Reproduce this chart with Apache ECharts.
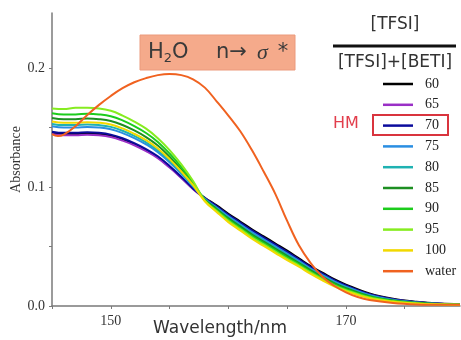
<!DOCTYPE html>
<html>
<head>
<meta charset="utf-8">
<script src="https://cdn.jsdelivr.net/npm/echarts@6/dist/echarts.min.js"></script>
<style>
  html, body { margin: 0; padding: 0; background: #fff; }
  #chart { width: 461px; height: 340px; }
</style>
</head>
<body>
<div id="chart"></div>
<script>
// Wavelength grid shared by the TFSI/BETI ratio spectra (nm)
const wavelength = [145, 146, 147, 148, 149, 150, 151, 152, 153, 154, 155, 156, 157,
  158, 159, 160, 161, 162, 163, 164, 165, 166, 167, 168, 169, 170, 172, 174, 176, 178, 179.7];

const abs60 = [0.1455, 0.1445, 0.1445, 0.145, 0.1445, 0.143, 0.140, 0.136, 0.131, 0.125, 0.117, 0.108, 0.0985,
  0.091, 0.0845, 0.0775, 0.071, 0.0645, 0.0585, 0.0525, 0.0465, 0.040, 0.0335, 0.028, 0.0225, 0.018, 0.0105, 0.006, 0.0035, 0.002, 0.0015];
const abs65 = [0.1445, 0.1435, 0.1435, 0.144, 0.1435, 0.142, 0.139, 0.1351, 0.1301, 0.1242, 0.1163, 0.1075, 0.0982,
  0.0904, 0.0834, 0.0761, 0.0695, 0.0629, 0.0569, 0.0509, 0.0449, 0.0386, 0.0322, 0.0267, 0.0213, 0.0169, 0.0097, 0.0055, 0.0032, 0.0019, 0.0014];
const abs70 = [0.1465, 0.1455, 0.1455, 0.146, 0.1455, 0.144, 0.141, 0.1369, 0.1319, 0.1258, 0.1177, 0.1085, 0.0988,
  0.0906, 0.0838, 0.0767, 0.0701, 0.0635, 0.0575, 0.0515, 0.0455, 0.0392, 0.0327, 0.0272, 0.0218, 0.0173, 0.010, 0.0057, 0.0033, 0.0019, 0.0014];
const abs75 = [0.151, 0.150, 0.150, 0.1505, 0.150, 0.1485, 0.1453, 0.1411, 0.1358, 0.1293, 0.1207, 0.1109, 0.1003,
  0.0901, 0.0828, 0.0754, 0.0687, 0.0621, 0.0561, 0.0501, 0.0441, 0.0379, 0.0315, 0.026, 0.0207, 0.0163, 0.0093, 0.0052, 0.003, 0.0018, 0.0013];
const abs80 = [0.153, 0.152, 0.152, 0.1525, 0.152, 0.1505, 0.1473, 0.1429, 0.1375, 0.1309, 0.122, 0.112, 0.1009,
  0.0896, 0.082, 0.0743, 0.0676, 0.0609, 0.0549, 0.0489, 0.0429, 0.0368, 0.0306, 0.0251, 0.0198, 0.0155, 0.0087, 0.0049, 0.0028, 0.0017, 0.0013];
const abs85 = [0.158, 0.157, 0.157, 0.1575, 0.157, 0.1555, 0.1521, 0.1475, 0.1419, 0.1348, 0.1254, 0.1146, 0.1025,
  0.0893, 0.0815, 0.0736, 0.0669, 0.0601, 0.0541, 0.0481, 0.0421, 0.0361, 0.0299, 0.0244, 0.0192, 0.015, 0.0083, 0.0046, 0.0027, 0.0016, 0.0012];
const abs90 = [0.162, 0.161, 0.161, 0.1615, 0.161, 0.1595, 0.156, 0.1512, 0.1454, 0.1379, 0.1281, 0.1167, 0.1038,
  0.0889, 0.0806, 0.0726, 0.0657, 0.0589, 0.0529, 0.0469, 0.0409, 0.0351, 0.0289, 0.0234, 0.0183, 0.0141, 0.0077, 0.0042, 0.0024, 0.0015, 0.0011];
const abs95 = [0.166, 0.1655, 0.1665, 0.1665, 0.166, 0.164, 0.160, 0.155, 0.149, 0.141, 0.131, 0.119, 0.105,
  0.0884, 0.0798, 0.0715, 0.0646, 0.0577, 0.0517, 0.0457, 0.0397, 0.034, 0.028, 0.0225, 0.0174, 0.0133, 0.0071, 0.0039, 0.0022, 0.0014, 0.0011];
const abs100 = [0.155, 0.154, 0.154, 0.1545, 0.154, 0.1525, 0.1492, 0.1447, 0.1393, 0.1324, 0.1234, 0.113, 0.1015,
  0.088, 0.079, 0.0705, 0.0635, 0.0565, 0.0505, 0.0445, 0.0385, 0.033, 0.027, 0.0215, 0.0165, 0.0125, 0.0065, 0.0035, 0.002, 0.0013, 0.001];

// Pure water spectrum, sampled on its own grid
const waterWavelength = [145, 145.5, 146, 147, 148, 149, 150, 151, 152, 153, 154, 155, 156, 157, 158, 159, 160,
  161, 162, 163, 164, 165, 166, 167, 168, 169, 170, 171, 172, 174, 176, 178, 179.7];
const absWater = [0.1445, 0.1428, 0.144, 0.151, 0.1605, 0.169, 0.1765, 0.183, 0.188, 0.1915, 0.194, 0.195, 0.194,
  0.1905, 0.1835, 0.172, 0.160, 0.147, 0.131, 0.113, 0.094, 0.0715, 0.051, 0.036, 0.0245, 0.017, 0.0115, 0.0075,
  0.005, 0.0025, 0.0013, 0.001, 0.001];

const seriesNames = ['60', '65', '70', '75', '80', '85', '90', '95', '100', 'water'];
const seriesColors = ['#000000', '#9a2fc6', '#0b0b9c', '#2a8ee2', '#1fb2b2', '#1d8f22', '#1ccc1c', '#86ec20', '#f2d900', '#f06220'];
const seriesValues = [abs60, abs65, abs70, abs75, abs80, abs85, abs90, abs95, abs100, absWater];

const chart = echarts.init(document.getElementById('chart'), null, { renderer: 'canvas' });

const series = seriesNames.map((name, i) => {
  const xs = name === 'water' ? waterWavelength : wavelength;
  return {
    name,
    type: 'line',
    smooth: 0.4,
    symbol: 'none',
    data: xs.map((x, j) => [x, seriesValues[i][j]]),
    lineStyle: { color: seriesColors[i], width: 2 },
    itemStyle: { color: seriesColors[i] },
    z: name === 'water' ? 4 : 2,
  };
});

const SERIF = '"Liberation Serif", "DejaVu Serif", serif';
const SANS = '"DejaVu Sans", Verdana, sans-serif';

chart.setOption({
  animation: false,
  grid: { left: 52, right: 1, top: 13, bottom: 34, outerBoundsMode: 'none' },
  xAxis: {
    type: 'value',
    min: 145,
    max: 179.7,
    interval: 5,
    axisLine: { lineStyle: { color: '#7a7a7a', width: 1.5 } },
    axisTick: { length: 3, lineStyle: { color: '#7a7a7a' } },
    axisLabel: {
      color: '#333',
      fontFamily: SERIF,
      fontSize: 14,
      margin: 8,
      showMaxLabel: false,
      // only 150 and 170 are labelled in the original
      formatter: (v) => (v === 150 || v === 170 ? String(v) : ''),
    },
    splitLine: { show: false },
  },
  yAxis: {
    type: 'value',
    min: 0,
    max: 0.2462,
    interval: 0.05,
    name: 'Absorbance',
    nameLocation: 'middle',
    nameGap: 29,
    nameMoveOverlap: false,
    nameTextStyle: { color: '#333', fontFamily: SERIF, fontSize: 14 },
    axisLine: { show: true, lineStyle: { color: '#7a7a7a', width: 1.5 } },
    axisTick: { show: true, length: 3, lineStyle: { color: '#7a7a7a' } },
    axisLabel: {
      color: '#333',
      fontFamily: SERIF,
      fontSize: 14,
      margin: 7,
      showMaxLabel: false,
      formatter: (v) => {
        const r = Math.round(v * 100);
        return r % 10 === 0 ? (r / 100).toFixed(1) : '';
      },
    },
    splitLine: { show: false },
  },
  legend: {
    data: seriesNames,
    orient: 'vertical',
    left: 383,
    top: 77,
    padding: 0,
    icon: 'rect',
    itemWidth: 30,
    itemHeight: 2.5,
    itemGap: 6.8,
    selectedMode: false,
    textStyle: { color: '#222', fontFamily: SERIF, fontSize: 14, padding: [0, 0, 0, 7] },
  },
  graphic: [
    // title badge
    {
      type: 'rect',
      shape: { x: 140, y: 35, width: 155, height: 35 },
      style: { fill: '#f5aa8b', stroke: '#eb9a7c', lineWidth: 1 },
      z: 10,
    },
    {
      type: 'text',
      x: 148,
      y: 53,
      style: {
        text: '{t|H}{s|2}{t|O}',
        verticalAlign: 'middle',
        rich: {
          t: { fontFamily: SANS, fontSize: 21, fill: '#3a3a3a' },
          s: { fontFamily: SANS, fontSize: 13, fill: '#3a3a3a', padding: [12, 0, 0, 0] },
        },
      },
      z: 11,
    },
    {
      type: 'text',
      x: 216,
      y: 53,
      style: {
        text: '{t|n→}{g|σ}{st|*}',
        verticalAlign: 'middle',
        rich: {
          t: { fontFamily: SANS, fontSize: 21, fill: '#3a3a3a' },
          g: { fontFamily: SERIF, fontStyle: 'italic', fontSize: 22, fill: '#3a3a3a', padding: [0, 0, 0, 10] },
          st: { fontFamily: SANS, fontSize: 21, fill: '#3a3a3a', padding: [0, 0, 0, 10] },
        },
      },
      z: 11,
    },
    // legend heading: [TFSI] / ([TFSI]+[BETI])
    {
      type: 'text',
      x: 395,
      y: 25,
      style: { text: '[TFSI]', fontFamily: SANS, fontSize: 17, fill: '#333', align: 'center', verticalAlign: 'middle' },
    },
    {
      type: 'line',
      shape: { x1: 333, y1: 46, x2: 456, y2: 46 },
      style: { stroke: '#111', lineWidth: 3 },
    },
    {
      type: 'text',
      x: 395,
      y: 63,
      style: { text: '[TFSI]+[BETI]', fontFamily: SANS, fontSize: 17, fill: '#333', align: 'center', verticalAlign: 'middle' },
    },
    // HM marker around the 70 entry
    {
      type: 'text',
      x: 333,
      y: 124,
      style: { text: 'HM', fontFamily: SANS, fontSize: 16, fill: '#e23e4c', verticalAlign: 'middle' },
    },
    {
      type: 'rect',
      shape: { x: 373, y: 115, width: 75, height: 20 },
      style: { fill: 'none', stroke: '#d9343e', lineWidth: 2 },
    },
    // x axis title sits left of centre in the original
    {
      type: 'text',
      x: 220,
      y: 329,
      style: { text: 'Wavelength/nm', fontFamily: SANS, fontSize: 17, fill: '#333', align: 'center', verticalAlign: 'middle' },
    },
  ],
  series,
});
</script>
</body>
</html>
